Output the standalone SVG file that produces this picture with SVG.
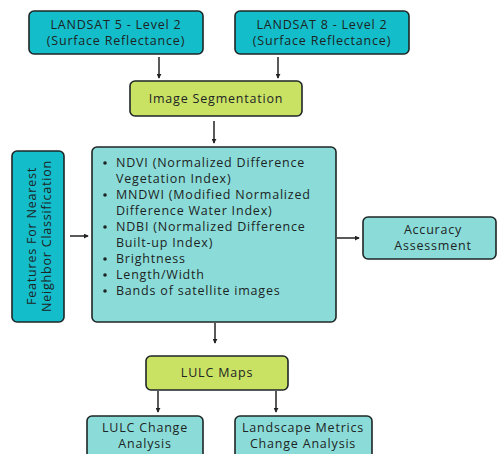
<svg xmlns="http://www.w3.org/2000/svg" width="498" height="454" viewBox="0 0 498 454">
<defs>
<marker id="ah" viewBox="0 0 6 6" refX="5" refY="3" markerWidth="5" markerHeight="5" orient="auto" markerUnits="userSpaceOnUse">
<path d="M0,0 L6,3 L0,6 z" fill="#222"/>
</marker>
<style>
.box{stroke:#1e2626;stroke-width:1.6}
.cyan{fill:#14BDCA}
.teal{fill:#8BDCD8}
.green{fill:#C9E264}
text{font-family:"Open Sans","Liberation Sans",sans-serif;font-size:12.5px;fill:#1d2424;letter-spacing:0.8px}
.c{text-anchor:middle}
.conn line{stroke:#222;stroke-width:1.5;marker-end:url(#ah)}
</style>
</defs>
<rect width="498" height="454" fill="#ffffff"/>
<g id="landsat5">
<rect class="box cyan" x="29" y="11" width="174" height="43" rx="5"/>
<text class="c" x="116" y="29">LANDSAT 5 - Level 2</text>
<text class="c" x="116" y="45">(Surface Reflectance)</text>
</g>
<g id="landsat8">
<rect class="box cyan" x="235" y="11" width="174" height="43" rx="5"/>
<text class="c" x="322" y="29">LANDSAT 8 - Level 2</text>
<text class="c" x="322" y="45">(Surface Reflectance)</text>
</g>
<g id="segmentation">
<rect class="box green" x="130" y="81" width="172" height="35" rx="5"/>
<text class="c" x="216" y="103">Image Segmentation</text>
</g>
<g id="features">
<rect class="box cyan" x="12" y="151" width="52" height="171" rx="5"/>
<text class="c" transform="translate(36,236) rotate(-90)">Features For Nearest</text>
<text class="c" transform="translate(51,236) rotate(-90)">Neighbor Classification</text>
</g>
<g id="indices">
<rect class="box teal" x="92" y="147" width="244" height="175" rx="5"/>
<g fill="#1d2424">
<circle cx="105" cy="163" r="1.8"/>
<circle cx="105" cy="195" r="1.8"/>
<circle cx="105" cy="227" r="1.8"/>
<circle cx="105" cy="259" r="1.8"/>
<circle cx="105" cy="275" r="1.8"/>
<circle cx="105" cy="291" r="1.8"/>
</g>
<text x="116" y="167">NDVI (Normalized Difference</text>
<text x="116" y="183">Vegetation Index)</text>
<text x="116" y="199">MNDWI (Modified Normalized</text>
<text x="116" y="215">Difference Water Index)</text>
<text x="116" y="231">NDBI (Normalized Difference</text>
<text x="116" y="247">Built-up Index)</text>
<text x="116" y="263">Brightness</text>
<text x="116" y="279">Length/Width</text>
<text x="116" y="295">Bands of satellite images</text>
</g>
<g id="accuracy">
<rect class="box teal" x="363" y="217" width="133" height="42" rx="5"/>
<text class="c" x="433" y="234">Accuracy</text>
<text class="c" x="433" y="250">Assessment</text>
</g>
<g id="lulcmaps">
<rect class="box green" x="146" y="356" width="142" height="34" rx="5"/>
<text class="c" x="217" y="377">LULC Maps</text>
</g>
<g id="lulcchange">
<rect class="box teal" x="87" y="416" width="116" height="46" rx="5"/>
<text class="c" x="145" y="432">LULC Change</text>
<text class="c" x="145" y="448">Analysis</text>
</g>
<g id="landscape">
<rect class="box teal" x="235" y="416" width="137" height="46" rx="5"/>
<text class="c" x="303" y="432">Landscape Metrics</text>
<text class="c" x="303" y="448">Change Analysis</text>
</g>
<g id="connectors" class="conn">
<line x1="159" y1="57" x2="159" y2="78"/>
<line x1="278" y1="57" x2="278" y2="78"/>
<line x1="214" y1="121" x2="214" y2="143"/>
<line x1="70" y1="236" x2="88" y2="236"/>
<line x1="337" y1="238" x2="359" y2="238"/>
<line x1="215" y1="323" x2="215" y2="343"/>
<line x1="158" y1="391" x2="158" y2="412"/>
<line x1="276" y1="391" x2="276" y2="412"/>
</g>
</svg>
